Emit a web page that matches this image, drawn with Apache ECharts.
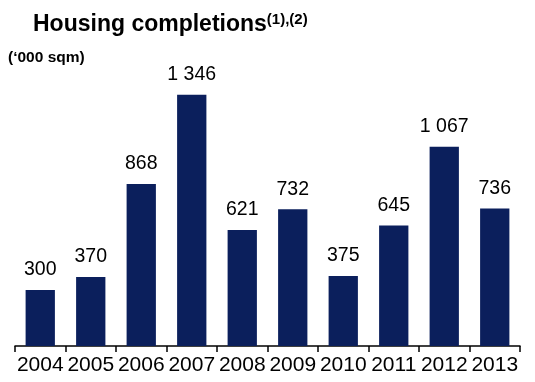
<!DOCTYPE html>
<html>
<head>
<meta charset="utf-8">
<script src="https://cdn.jsdelivr.net/npm/echarts@6/dist/echarts.min.js"></script>
<style>
html,body{margin:0;padding:0;background:#fff;}
#chart{width:535px;height:382px;}
</style>
</head>
<body>
<div id="chart"></div>
<script>
// Housing completions by year, thousand square metres
const years = ['2004','2005','2006','2007','2008','2009','2010','2011','2012','2013'];
const completions = [300, 370, 868, 1346, 621, 732, 375, 645, 1067, 736];

const FONT = 'Liberation Sans, Arial, sans-serif';

function fmt(v) {
  return String(v).replace(/\B(?=(\d{3})+(?!\d))/g, ' ');
}

const chart = echarts.init(document.getElementById('chart'), null, {renderer: 'canvas'});
chart.setOption({
  animation: false,
  backgroundColor: '#fff',
  textStyle: {fontFamily: FONT},
  title: [
    {
      text: 'Housing completions{sup|(1),(2)}',
      left: 28, top: 7,
      textStyle: {
        fontSize: 23, fontWeight: 'bold', color: '#000', fontFamily: FONT,
        rich: {sup: {fontSize: 15, fontWeight: 'bold', verticalAlign: 'top', padding: [0,0,10,0], color: '#000', fontFamily: FONT}}
      }
    },
    {
      text: '(\u2018000 sqm)',
      left: 3, top: 45,
      textStyle: {fontSize: 15.5, fontWeight: 'bold', color: '#000', fontFamily: FONT}
    }
  ],
  grid: {left: 15, right: 15, top: 66, bottom: 36},
  xAxis: {
    type: 'category',
    data: years,
    axisLine: {lineStyle: {color: '#000', width: 1.5}},
    axisTick: {show: true, length: 6, lineStyle: {color: '#000', width: 1.5}},
    axisLabel: {color: '#000', fontSize: 21, margin: 9, interval: 0, hideOverlap: false, fontFamily: FONT}
  },
  yAxis: {
    type: 'value', min: 0, max: 1500,
    show: false,
    splitLine: {show: false}
  },
  series: [{
    type: 'bar',
    data: completions,
    barWidth: '58%',
    itemStyle: {color: '#0b1f5c'},
    label: {
      show: true, position: 'top', distance: 10,
      color: '#000', fontSize: 19.5, fontFamily: FONT,
      formatter: p => fmt(p.value)
    }
  }]
});
</script>
</body>
</html>
